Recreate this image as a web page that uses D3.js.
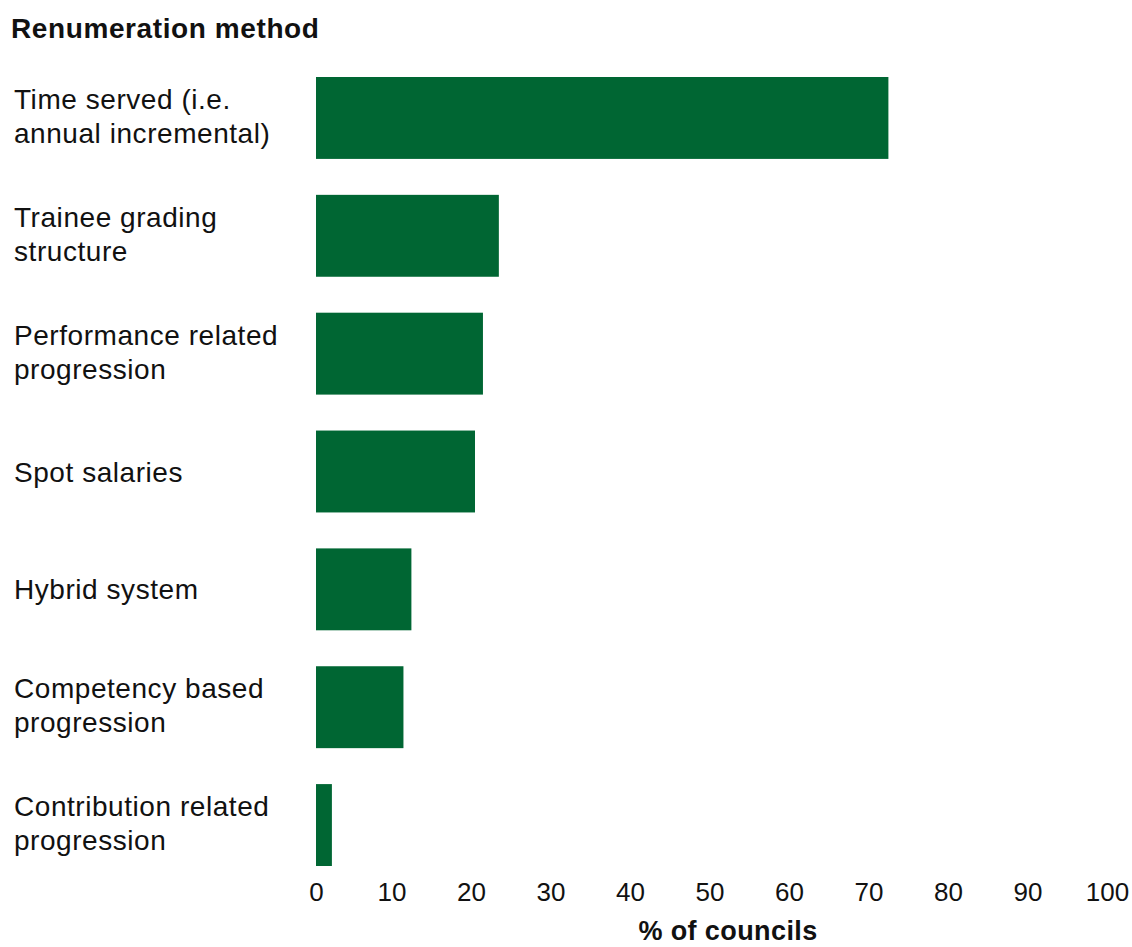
<!DOCTYPE html>
<html>
<head>
  <script src="https://d3js.org/d3.v7.min.js"></script>
  <meta charset="utf-8">
  <title>Renumeration method</title>
  <style>
    body {margin: 0; background: #fff;
          font-family: "Liberation Sans", Helvetica, Arial, sans-serif;}
    .cat-label {font-size: 28px; letter-spacing: 0.55px; fill: #111;}
    .title {font-size: 28px; font-weight: bold; letter-spacing: 0.6px; fill: #111;}
    .x-axis text {font-size: 26px; fill: #111;}
    .x-title {font-size: 27px; font-weight: bold; letter-spacing: 0.4px; fill: #111;}
  </style>
</head>
<body>
  <div id="chart"></div>

  <script>
    /* Data */
    const categories = [
      "Time served (i.e.\nannual incremental)",
      "Trainee grading\nstructure",
      "Performance related\nprogression",
      "Spot salaries",
      "Hybrid system",
      "Competency based\nprogression",
      "Contribution related\nprogression"
    ];
    const values = [72, 23, 21, 20, 12, 11, 2];
    const xTicks = [0, 10, 20, 30, 40, 50, 60, 70, 80, 90, 100];

    const width = 1132, height = 947;

    const svg = d3.select("#chart")
                  .append("svg")
                  .attr("width", width)
                  .attr("height", height);

    /* Scales */
    const x = d3.scaleLinear().domain([0, 100]).range([316, 1111]);
    const y = d3.scaleBand().domain(categories).range([77, 866])
                .paddingInner(0.305).paddingOuter(0);

    /* Title */
    svg.append("text")
       .attr("class", "title")
       .attr("x", 11)
       .attr("y", 38)
       .text("Renumeration method");

    /* Bars */
    svg.selectAll(".bar")
       .data(categories)
       .enter()
       .append("rect")
       .attr("class", "bar")
       .attr("x", x(0))
       .attr("y", d => y(d))
       .attr("width", (d, i) => x(values[i]) - x(0))
       .attr("height", y.bandwidth())
       .attr("fill", "#006633");

    /* Category labels, wrapped by hand */
    const labels = svg.selectAll(".cat-label")
       .data(categories)
       .enter()
       .append("text")
       .attr("class", "cat-label")
       .attr("x", 14)
       .attr("y", d => y(d) + y.bandwidth() / 2);

    labels.each(function (d) {
      const lines = d.split("\n");
      const t = d3.select(this);
      lines.forEach((line, i) => {
        let dy;
        if (lines.length === 1) dy = 10;
        else dy = i === 0 ? -9 : 34;
        t.append("tspan")
         .attr("x", 14)
         .attr("dy", dy)
         .text(line);
      });
    });

    /* X axis, ticks and domain hidden */
    const xAxis = d3.axisBottom(x).tickValues(xTicks).tickSize(0).tickPadding(0);
    const gx = svg.append("g")
       .attr("class", "x-axis")
       .attr("transform", "translate(0,882)")
       .call(xAxis);
    gx.select(".domain").remove();
    gx.selectAll("text")
      .attr("dy", "0.72em")
      .attr("dx", d => d === 0 ? 0 : -4)
      .style("font-family", "'Liberation Sans', Helvetica, Arial, sans-serif");

    svg.append("text")
       .attr("class", "x-title")
       .attr("x", 728)
       .attr("y", 940)
       .attr("text-anchor", "middle")
       .text("% of councils");
  </script>
</body>
</html>
